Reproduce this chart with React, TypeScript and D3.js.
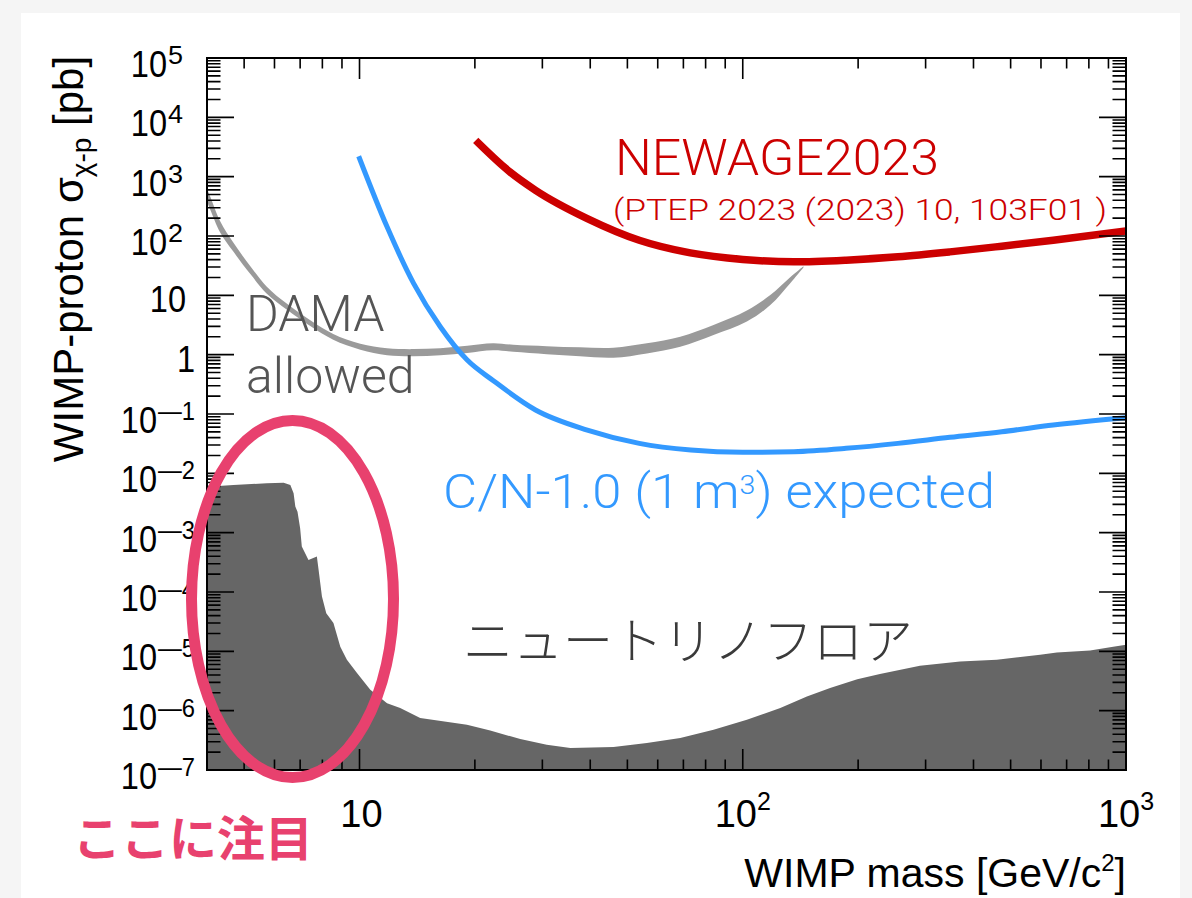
import React from "react";
import * as d3 from "d3";

// WIMP mass [GeV/c^2] vs cross section [pb]

// NEWAGE2023 limit (red)
const newageMass = [20.1, 24.7, 28.8, 39.3, 53.7, 73, 100, 136, 186, 254, 347, 474, 646, 1000];
const newageSigma = [4100, 1200, 590, 197, 85, 52, 40.3, 36.7, 39.2, 44.6, 54, 67.4, 85, 121];

// C/N-1.0 (1 m3) expected sensitivity (blue)
const cnMass = [9.95, 11.8, 13.84, 16.25, 19.1, 22.4, 28.8, 39.3, 53.7, 73.2, 100, 136, 186, 254, 347, 474, 646, 1000];
const cnSigma = [2210, 142.6, 15.9, 2.95, 0.81, 0.36, 0.117, 0.0537, 0.032, 0.0247, 0.0226, 0.0232, 0.0264, 0.032, 0.0405, 0.0503, 0.0652, 0.0865];

// DAMA allowed band (gray), upper / lower edges
const damaMass = [4.0, 4.08, 4.33, 4.68, 5.19, 5.73, 6.47, 7.44, 8.54, 10.05, 11.8, 13.84, 16.25, 19.1, 22.3, 25.2, 30.8, 37.6, 46.0, 56.2, 68.7, 83.9, 102.5, 118, 133, 144];
const damaUpper = [627, 459, 177, 78.1, 31.0, 14.0, 7.19, 3.81, 2.24, 1.53, 1.28, 1.24, 1.28, 1.41, 1.56, 1.47, 1.39, 1.33, 1.31, 1.55, 2.0, 3.16, 5.54, 10.1, 20.2, 30.9];
const damaLower = [380, 278, 115, 55.1, 22.8, 10.65, 5.71, 3.03, 1.78, 1.21, 0.977, 0.94, 0.977, 1.07, 1.19, 1.12, 1.02, 0.94, 0.89, 1.05, 1.36, 2.14, 3.61, 6.84, 16.0, 29.5];

// neutrino floor (filled, dark gray)
const nuMass = [4.0, 4.69, 5.73, 6.34, 6.6, 6.73, 6.8, 6.89, 7.0, 7.07, 7.36, 7.74, 7.82, 7.98, 8.19, 8.55, 8.91, 9.27, 9.85, 10.67, 11.8, 12.77, 14.4, 19.07, 21.93, 26.27, 30.8, 35.5, 46.0, 56.2, 68.7, 83.9, 102.5, 125.3, 147, 169, 199, 228, 290, 369, 460, 597, 660, 806, 926, 1000];
const nuSigma = [5.96e-3, 6.34e-3, 6.81e-3, 6.97e-3, 6.34e-3, 4.61e-3, 2.75e-3, 2.26e-3, 1.19e-3, 5.82e-4, 3.47e-4, 3.95e-4, 2.36e-4, 8.4e-5, 4.4e-5, 3.0e-5, 1.2e-5, 7.2e-6, 4.3e-6, 2.25e-6, 1.34e-6, 1.11e-6, 7.5e-7, 5.78e-7, 4.64e-7, 3.32e-7, 2.66e-7, 2.34e-7, 2.43e-7, 2.84e-7, 3.45e-7, 4.76e-7, 7.0e-7, 1.11e-6, 1.73e-6, 2.4e-6, 3.4e-6, 4.13e-6, 5.7e-6, 6.73e-6, 7.2e-6, 8.73e-6, 9.55e-6, 1.03e-5, 1.2e-5, 1.29e-5];

// axis ticks
const yExponents = [-7, -6, -5, -4, -3, -2, -1, 0, 1, 2, 3, 4, 5];
const xMajor = [10, 100, 1000];
const xMinor = [5, 6, 7, 8, 9, 20, 30, 40, 50, 60, 70, 80, 90, 200, 300, 400, 500, 600, 700, 800, 900];
const minorSteps = [2, 3, 4, 5, 6, 7, 8, 9];

const SANS = "'Liberation Sans', Arial, Helvetica, sans-serif";
const LIGHT = "Roboto, 'Liberation Sans', sans-serif";
const CJK = "'Noto Sans CJK JP', 'Noto Sans CJK SC', sans-serif";
const PINK = "#e8416e";

export default function App() {
  const L = 207, R = 1126, T = 58, B = 770;
  const x = d3.scaleLog().domain([4, 1000]).range([L, R]);
  const y = d3.scaleLog().domain([1e-7, 1e5]).range([B, T]);

  // one line generator per series so the indices line up
  function curve(ms: number[], ss: number[]) {
    return d3
      .line<number>()
      .x((_, i) => x(ms[i]))
      .y((d) => y(d))
      .curve(d3.curveMonotoneX)(ss) as string;
  }

  const damaPath = d3
    .area<number>()
    .x((_, i) => x(damaMass[i]))
    .y0((_, i) => y(damaLower[i]))
    .y1((d) => y(d))
    .curve(d3.curveCatmullRom.alpha(0.5))(damaUpper) as string;

  const nuPath = d3
    .area<number>()
    .x((_, i) => x(nuMass[i]))
    .y0(B)
    .y1((d) => y(d))
    .curve(d3.curveLinear)(nuSigma) as string;

  // ROOT-style ticks on all four sides, pointing inward
  let tickD = "";
  yExponents.forEach((k) => {
    const yy = y(Math.pow(10, k));
    tickD += `M${L},${yy}h27M${R},${yy}h-27`;
    if (k < 5)
      minorSteps.forEach((s) => {
        const ym = y(s * Math.pow(10, k));
        tickD += `M${L},${ym}h13.5M${R},${ym}h-13.5`;
      });
  });
  xMajor.forEach((v) => {
    const xx = x(v);
    tickD += `M${xx},${B}v-21M${xx},${T}v21`;
  });
  xMinor.forEach((v) => {
    const xx = x(v);
    tickD += `M${xx},${B}v-10.5M${xx},${T}v10.5`;
  });

  return (
    <svg
      width={1192}
      height={898}
      style={{ position: "absolute", left: 0, top: 0 }}
      fontFamily={SANS}
    >
      <rect x={0} y={0} width={1192} height={898} fill="#f5f5f5" />
      <rect x={21} y={13} width={1159} height={900} fill="#ffffff" />
      <defs>
        <clipPath id="plot">
          <rect x={L} y={T} width={R - L} height={B - T} />
        </clipPath>
      </defs>

      <g clipPath="url(#plot)">
        <path d={nuPath} fill="#666666" />
        <path d={damaPath} fill="#9a9a9a" />
        <path d={curve(cnMass, cnSigma)} fill="none" stroke="#3399ff" strokeWidth={5} />
        <path d={curve(newageMass, newageSigma)} fill="none" stroke="#cc0000" strokeWidth={7.5} />
      </g>

      <path d={tickD} stroke="#000" strokeWidth={1.6} fill="none" />
      <rect x={L} y={T} width={R - L} height={B - T} fill="none" stroke="#000" strokeWidth={2} />

      {/* y tick labels */}
      {yExponents.map((k) => {
        const yy = y(Math.pow(10, k));
        if (k === 0 || k === 1)
          return (
            <text key={k} transform={`translate(${k === 0 ? 195 : 186},${yy + 17}) scale(0.88,1)`} textAnchor="end" fontSize={37}>
              {k === 0 ? "1" : "10"}
            </text>
          );
        const sx = k < 0 ? 157 : 167;
        return (
          <g key={k}>
            <text transform={`translate(${sx},${yy + 19}) scale(0.88,1)`} textAnchor="end" fontSize={37}>
              10
            </text>
            <text x={sx + 1} y={yy + 6} fontSize={25} textLength={k < 0 ? 37 : 15} lengthAdjust="spacingAndGlyphs">
              {k < 0 ? "\u2014" + -k : String(k)}
            </text>
          </g>
        );
      })}

      {/* x tick labels */}
      {xMajor.map((v, i) => (
        <text key={v} x={x(v) + (i === 0 ? 2 : 0)} y={827} textAnchor="middle" fontSize={38}>
          10
          {i > 0 && (
            <tspan fontSize={25} dy={-17}>
              {String(i + 1)}
            </tspan>
          )}
        </text>
      ))}

      {/* axis titles */}
      <text x={R} y={887} textAnchor="end" fontSize={41}>
        WIMP mass [GeV/c
        <tspan fontSize={24} dy={-16}>2</tspan>
        <tspan dy={16}>]</tspan>
      </text>
      <text transform="translate(83,259) rotate(-90)" textAnchor="middle" fontSize={42}>
        WIMP-proton σ
        <tspan fontSize={28} dy={8}>χ-p</tspan>
        <tspan dy={-8}> [pb]</tspan>
      </text>

      {/* annotations */}
      <text x={615} y={175} fontSize={50} fill="#cc0000" fontFamily={LIGHT} fontWeight={300} textLength={324} lengthAdjust="spacingAndGlyphs">
        NEWAGE2023
      </text>
      <text x={613} y={220} fontSize={30} fill="#cc0000" fontFamily={LIGHT} fontWeight={300} textLength={494} lengthAdjust="spacingAndGlyphs">
        (PTEP 2023 (2023) 10, 103F01 )
      </text>
      <text x={443} y={508} fontSize={48} fill="#3399ff" fontFamily={LIGHT} fontWeight={300} textLength={552} lengthAdjust="spacingAndGlyphs">
        C/N-1.0 (1 m<tspan fontSize={26} dy={-14}>3</tspan>
        <tspan dy={14}>) expected</tspan>
      </text>
      <text x={246} y={331} fontSize={50} fill="#555555" fontFamily={LIGHT} fontWeight={300}>
        DAMA
      </text>
      <text x={246} y={393} fontSize={50} fill="#555555" fontFamily={LIGHT} fontWeight={300}>
        allowed
      </text>
      <text x={463} y={659} fontSize={50} fill="#3a3a3a" fontFamily={CJK} fontWeight={300}>
        ニュートリノフロア
      </text>

      <ellipse cx={292.5} cy={599} rx={101} ry={178.5} fill="none" stroke={PINK} strokeWidth={11} />
      <text x={73} y={856} fontSize={48} fill={PINK} fontFamily={CJK} fontWeight={700}>
        ここに注目
      </text>
    </svg>
  );
}
